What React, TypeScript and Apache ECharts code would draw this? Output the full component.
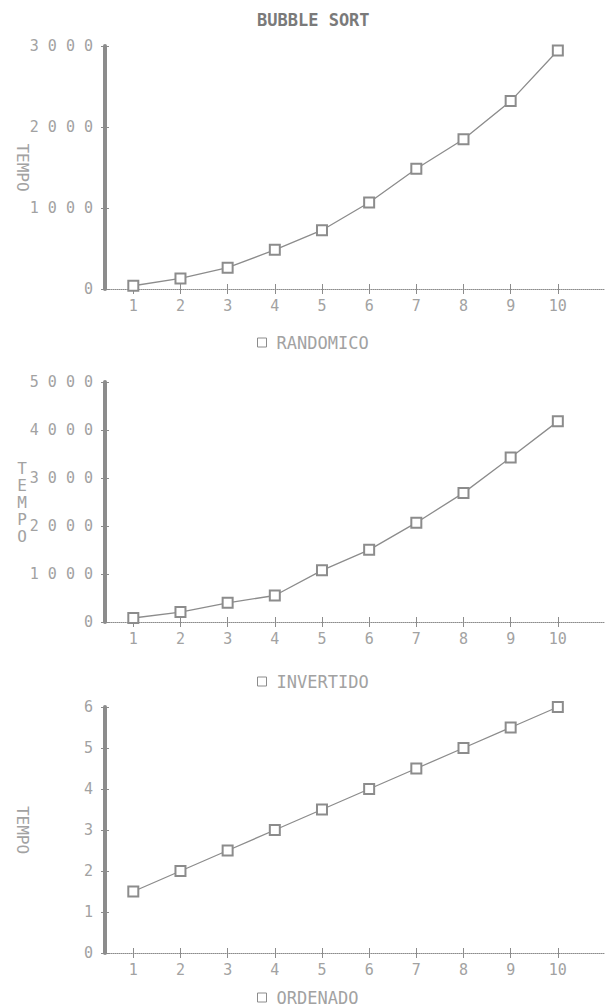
import React, { useEffect, useRef } from "react";
import * as echarts from "echarts";

const categories = [1, 2, 3, 4, 5, 6, 7, 8, 9, 10];
const randomico = [40, 130, 263, 484, 726, 1068, 1485, 1848, 2320, 2945];
const invertido = [83, 207, 400, 552, 1076, 1503, 2069, 2690, 3428, 4180];
const ordenado = [1.5, 2, 2.5, 3, 3.5, 4, 4.5, 5, 5.5, 6];

const seriesNames = ["RANDOMICO", "INVERTIDO", "ORDENADO"];
const seriesValues = [randomico, invertido, ordenado];
const yMax = [3000, 5000, 6];
const yInterval = [1000, 1000, 1];
const title = "BUBBLE SORT";
const yName = "TEMPO";

const FONT = "DejaVu Sans Mono";
const TEXT = "#a2a2a2";
const LINE = "#8c8c8c";

export default function App() {
  const ref = useRef<HTMLDivElement>(null);
  useEffect(() => {
    const chart = echarts.init(ref.current!, null, { renderer: "svg" });
    const grids = [
      { left: 105, right: 0, top: 46, height: 243, outerBoundsMode: "none", containLabel: false },
      { left: 105, right: 0, top: 382, height: 240, outerBoundsMode: "none", containLabel: false },
      { left: 105, right: 0, top: 707, height: 246, outerBoundsMode: "none", containLabel: false },
    ];
    const legendTops = [329, 668, 984];
    const xAxis: any[] = [];
    const yAxis: any[] = [];
    grids.forEach((_, i) => {
      xAxis.push({
        type: "value",
        gridIndex: i,
        min: 0.4,
        max: 11,
        axisLine: { show: true, onZero: false, lineStyle: { color: LINE, width: 1, type: "dotted" } },
        axisTick: { show: true, customValues: categories, length: 5, lineStyle: { color: LINE } },
        axisLabel: { customValues: categories, fontFamily: FONT, fontSize: 15, color: TEXT, margin: 9 },
        splitLine: { show: false },
      });
      xAxis.push({
        type: "value",
        gridIndex: i,
        position: "bottom",
        min: 0.4,
        max: 11,
        axisLine: { show: false },
        axisTick: { show: true, inside: true, customValues: categories, length: 5, lineStyle: { color: LINE } },
        axisLabel: { show: false },
        splitLine: { show: false },
      });
      const stacked = i === 1;
      yAxis.push({
        type: "value",
        gridIndex: i,
        min: 0,
        max: yMax[i],
        interval: yInterval[i],
        axisLine: { show: true, lineStyle: { color: LINE, width: 4 } },
        axisTick: { show: true, length: 4, lineStyle: { color: LINE } },
        axisLabel: {
          fontFamily: FONT,
          fontSize: 15,
          color: TEXT,
          margin: 12,
          formatter: (v: number) => String(v).split("").join(" "),
        },
        splitLine: { show: false },
        name: stacked ? yName.split("").join("\n") : yName,
        nameLocation: "middle",
        nameMoveOverlap: false,
        nameGap: stacked ? 78 : 74,
        nameRotate: stacked ? 0 : -90,
        nameTextStyle: { fontFamily: FONT, fontSize: 16, color: TEXT, lineHeight: 17 },
      });
      yAxis.push({
        type: "value",
        gridIndex: i,
        position: "left",
        min: 0,
        max: yMax[i],
        interval: yInterval[i],
        axisLine: { show: false },
        axisTick: { show: true, inside: true, length: 4, lineStyle: { color: LINE } },
        axisLabel: { show: false },
        splitLine: { show: false },
      });
    });
    const series = seriesNames.map((name, i) => ({
      name,
      type: "line",
      xAxisIndex: 2 * i,
      yAxisIndex: 2 * i,
      data: categories.map((c, j) => [c, seriesValues[i][j]]),
      symbol: "emptyRect",
      symbolSize: 10,
      showSymbol: true,
      lineStyle: { color: LINE, width: 1.3 },
      itemStyle: { color: LINE, borderColor: LINE, borderWidth: 1.2 },
    }));
    const legend = seriesNames.map((name, i) => ({
      data: [{ name, icon: "rect", itemStyle: { color: "#fff", borderColor: LINE, borderWidth: 1 } }],
      left: 252,
      top: legendTops[i],
      itemWidth: 9,
      itemHeight: 9,
      itemGap: 8,
      selectedMode: false,
      textStyle: { fontFamily: FONT, fontSize: 17, color: TEXT, padding: [0, 0, 0, 5] },
    }));
    chart.setOption({
      animation: false,
      backgroundColor: "#ffffff",
      title: {
        text: title,
        left: 252,
        top: 6,
        textStyle: { fontFamily: FONT, fontSize: 17, fontWeight: "bold", color: "#7a7a7a" },
      },
      grid: grids,
      xAxis,
      yAxis,
      legend,
      series,
    });
    return () => chart.dispose();
  }, []);
  return (
    <div
      ref={ref}
      style={{ position: "fixed", left: 0, top: 0, width: 605, height: 1006, background: "#fff" }}
    />
  );
}
